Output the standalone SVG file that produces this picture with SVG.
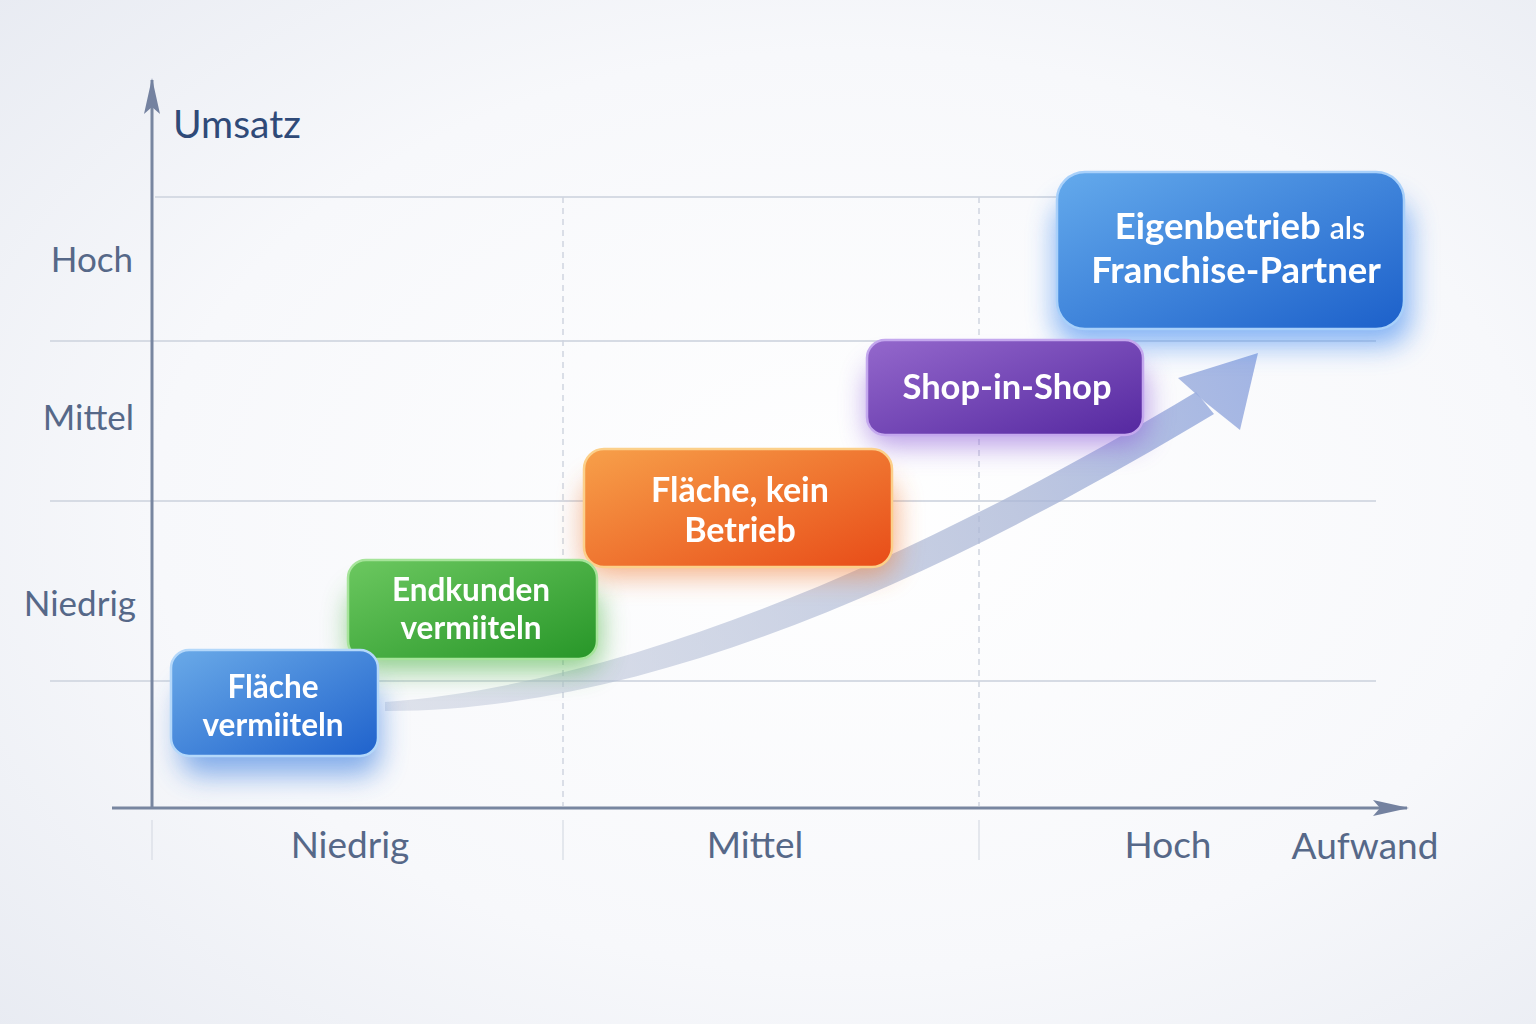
<svg xmlns="http://www.w3.org/2000/svg" width="1536" height="1024" viewBox="0 0 1536 1024">
<defs>
  <radialGradient id="bg" cx="0.55" cy="0.5" r="0.75">
    <stop offset="0" stop-color="#ffffff"/>
    <stop offset="0.6" stop-color="#f7f8fb"/>
    <stop offset="1" stop-color="#e8ebf2"/>
  </radialGradient>
  <linearGradient id="gBlue" x1="0" y1="0" x2="1" y2="1">
    <stop offset="0" stop-color="#6aaae8"/>
    <stop offset="1" stop-color="#1f62cc"/>
  </linearGradient>
  <linearGradient id="gGreen" x1="0" y1="0" x2="1" y2="1">
    <stop offset="0" stop-color="#6cc860"/>
    <stop offset="1" stop-color="#279628"/>
  </linearGradient>
  <linearGradient id="gOrange" x1="0" y1="0" x2="1" y2="1">
    <stop offset="0" stop-color="#f7a04a"/>
    <stop offset="1" stop-color="#e84c18"/>
  </linearGradient>
  <linearGradient id="gPurple" x1="0" y1="0" x2="1" y2="1">
    <stop offset="0" stop-color="#9468cc"/>
    <stop offset="1" stop-color="#5528a0"/>
  </linearGradient>
  <linearGradient id="gBig" x1="0" y1="0" x2="1" y2="1">
    <stop offset="0" stop-color="#64aaec"/>
    <stop offset="1" stop-color="#1c60ca"/>
  </linearGradient>
  <linearGradient id="gArrow" x1="385" y1="706" x2="1258" y2="353" gradientUnits="userSpaceOnUse">
    <stop offset="0" stop-color="#bcc4d6" stop-opacity="0.45"/>
    <stop offset="0.7" stop-color="#aab6d6" stop-opacity="0.75"/>
    <stop offset="1" stop-color="#92a8e0" stop-opacity="0.85"/>
  </linearGradient>
  <filter id="glow" x="-30%" y="-40%" width="160%" height="190%">
    <feGaussianBlur stdDeviation="14"/>
  </filter>
  <marker id="axHead" viewBox="0 0 36 16" refX="34" refY="8" markerUnits="userSpaceOnUse" markerWidth="36" markerHeight="16" orient="auto">
    <path d="M0 0 L36 8 L0 16 L7 8 Z" fill="#7482a0"/>
  </marker>
  <style>
    .grid{stroke:#d6dbe4;stroke-width:2;fill:none}
    .vdash{stroke:#cfd5df;stroke-width:1.5;stroke-dasharray:6 5;fill:none}
    .tick{stroke:#dde1e8;stroke-width:1.5}
    .axis{stroke:#7886a0;stroke-width:3;fill:none}
    .lab{font-family:Lato,"Liberation Sans",sans-serif;font-size:35px;fill:#566888}
    .xlab{font-family:Lato,"Liberation Sans",sans-serif;font-size:37px;fill:#566888;text-anchor:middle}
    .node{stroke-width:2.5}
    .nt{font-family:Lato,"Liberation Sans",sans-serif;font-weight:bold;fill:#ffffff;text-anchor:middle}
  </style>
</defs>

<rect width="1536" height="1024" fill="url(#bg)"/>

<g id="grid">
  <line class="grid" x1="155" y1="197" x2="1376" y2="197"/>
  <line class="grid" x1="50" y1="341" x2="1376" y2="341"/>
  <line class="grid" x1="50" y1="501" x2="1376" y2="501"/>
  <line class="grid" x1="50" y1="681" x2="1376" y2="681"/>
  <line class="vdash" x1="563" y1="197" x2="563" y2="806"/>
  <line class="vdash" x1="979" y1="197" x2="979" y2="806"/>
  <line class="tick" x1="152" y1="820" x2="152" y2="860"/>
  <line class="tick" x1="563" y1="820" x2="563" y2="860"/>
  <line class="tick" x1="979" y1="820" x2="979" y2="860"/>
</g>

<g id="axes">
  <line class="axis" x1="152" y1="808" x2="152" y2="80" marker-end="url(#axHead)"/>
  <line class="axis" x1="112" y1="808" x2="1407" y2="808" marker-end="url(#axHead)"/>
  <text x="173" y="138" font-family="Lato,'Liberation Sans',sans-serif" font-size="39" fill="#2f4a78">Umsatz</text>
  <text class="lab" x="133" y="272" text-anchor="end">Hoch</text>
  <text class="lab" x="134" y="430" text-anchor="end">Mittel</text>
  <text class="lab" x="136" y="616" text-anchor="end" font-size="32">Niedrig</text>
  <text class="xlab" x="350" y="858">Niedrig</text>
  <text class="xlab" x="755" y="858">Mittel</text>
  <text class="xlab" x="1168" y="858">Hoch</text>
  <text class="xlab" x="1365" y="859" font-size="40">Aufwand</text>
</g>

<g id="connectors">
  <path d="M385 702 C650 682 950 540 1196 392 L1214 414 C960 566 660 712 385 711 Z" fill="url(#gArrow)"/>
  <path d="M1258 353 L1178 378 L1205 402 L1240 430 Z" fill="url(#gArrow)"/>
</g>

<g id="glows" opacity="0.62">
  <rect x="180" y="685" width="200" height="90" rx="20" fill="#3a7ee0" filter="url(#glow)"/>
  <rect x="350" y="590" width="250" height="80" rx="20" fill="#46b040" filter="url(#glow)"/>
  <rect x="585" y="480" width="310" height="95" rx="20" fill="#f07a30" filter="url(#glow)"/>
  <rect x="868" y="365" width="278" height="80" rx="20" fill="#8a5ad8" filter="url(#glow)"/>
  <rect x="1055" y="200" width="355" height="145" rx="26" fill="#3a86f0" filter="url(#glow)"/>
</g>

<g id="node-orange">
  <rect class="node" x="584" y="449" width="308" height="118" rx="20" fill="url(#gOrange)" stroke="#fcd08a"/>
  <text class="nt" font-size="34"><tspan x="740" y="502">Fläche, kein</tspan><tspan x="740" y="542">Betrieb</tspan></text>
</g>

<g id="node-green">
  <rect class="node" x="348" y="560" width="249" height="99" rx="18" fill="url(#gGreen)" stroke="#a6e49a"/>
  <text class="nt" font-size="31.5"><tspan x="471" y="601">Endkunden</tspan><tspan x="471" y="638.5">vermiiteln</tspan></text>
</g>

<g id="node-blue">
  <rect class="node" x="171" y="650" width="207" height="106" rx="18" fill="url(#gBlue)" stroke="#b4d8fa"/>
  <text class="nt" font-size="31.5"><tspan x="273" y="698">Fläche</tspan><tspan x="273" y="735.5">vermiiteln</tspan></text>
</g>

<g id="node-purple">
  <rect class="node" x="867" y="340" width="276" height="95" rx="18" fill="url(#gPurple)" stroke="#c4a8ee"/>
  <text class="nt" x="1007" y="399" font-size="34.5">Shop-in-Shop</text>
</g>

<g id="node-big">
  <rect class="node" x="1057" y="172" width="347" height="157" rx="28" fill="url(#gBig)" stroke="#a8d0fa"/>
  <text class="nt" font-size="36.5"><tspan x="1240" y="239">Eigenbetrieb <tspan font-size="30" font-weight="600">als</tspan></tspan><tspan x="1236" y="283">Franchise-Partner</tspan></text>
</g>
</svg>
